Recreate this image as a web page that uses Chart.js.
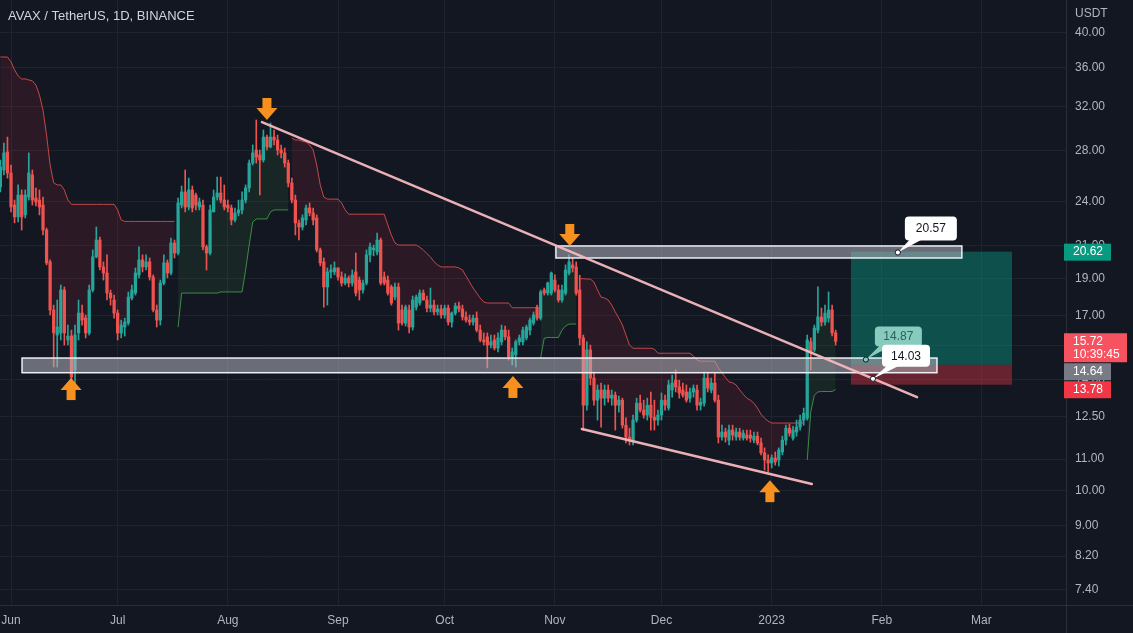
<!DOCTYPE html>
<html><head><meta charset="utf-8">
<script src="https://cdn.jsdelivr.net/npm/chart.js@4.4.0/dist/chart.umd.min.js"></script>
<style>html,body{margin:0;padding:0;background:#131722;overflow:hidden}</style>
</head><body>
<canvas id="c" width="1133" height="633"></canvas>
<script>
// ---- DATA (daily candles, day 0 = 2022-06-01; first candle = day -3) ----
const firstDay = -3;
const opens = [
25.09,26.41,27.89,26.17,23.75,22.91,24.48,23.05,24.33,26.01,
24.26,24.11,23.75,22.02,19.99,17.28,16.02,16.12,18.36,15.78,
15.97,14.41,16.12,17.12,16.86,16.12,18.36,20.30,21.36,19.69,
19.33,18.19,17.81,17.12,16.12,16.41,16.61,17.92,18.19,19.22,
20.11,19.69,19.99,19.10,17.28,16.76,18.75,19.93,19.33,21.17,
20.54,23.75,24.71,23.61,24.86,24.48,23.61,23.75,20.92,20.54,
23.26,24.33,24.63,24.11,23.75,23.54,22.70,23.19,23.40,24.11,
25.01,26.97,28.06,27.64,27.22,29.18,28.32,29.18,28.92,28.06,
27.81,26.97,25.39,24.11,22.50,22.22,22.70,23.54,23.19,22.84,
20.73,19.99,18.53,19.39,19.39,19.63,19.10,18.75,19.04,18.75,
19.39,18.92,18.36,18.75,20.42,20.73,20.60,21.36,19.10,18.92,
18.53,17.97,18.53,17.28,16.61,17.28,16.41,17.43,17.65,18.19,
17.81,17.38,17.54,17.18,17.33,17.02,17.38,16.66,17.12,17.49,
17.33,16.92,16.76,16.66,16.86,16.26,15.78,15.93,15.54,15.78,
15.40,15.69,16.26,15.93,14.99,15.08,15.69,15.69,15.88,16.26,
16.61,17.43,16.86,18.36,18.19,18.19,18.92,18.36,17.81,18.19,
19.33,19.81,19.69,18.36,15.88,12.95,15.31,14.06,13.15,13.56,
13.23,13.56,13.23,13.35,12.95,13.15,12.19,11.76,11.65,12.38,
13.03,12.76,12.57,12.95,12.49,12.38,12.57,13.15,12.84,13.56,
13.97,13.69,13.56,13.48,13.23,13.48,13.56,12.95,13.03,14.06,
13.56,13.85,13.15,11.76,11.94,11.65,12.01,11.76,11.94,11.72,
11.83,11.83,11.65,11.79,11.55,11.21,10.97,10.87,11.04,10.97,
11.24,11.65,12.08,11.72,11.94,12.12,12.38,12.45,15.69,15.31,
16.26,16.92,16.66,16.86,17.28,16.12];
const highs = [
27.22,28.66,29.18,26.81,24.11,25.24,24.86,24.86,27.81,26.41,
25.01,24.86,24.33,22.15,20.11,17.54,17.81,18.64,18.53,16.51,
16.26,16.51,17.81,17.54,17.02,18.64,20.73,22.22,21.56,19.99,
20.42,18.36,18.08,17.28,16.76,16.86,18.25,18.64,19.63,20.92,
20.42,20.42,20.23,19.22,17.54,18.92,20.42,20.11,21.49,21.36,
24.26,25.16,26.41,25.77,25.16,24.63,24.26,24.11,21.04,23.75,
24.86,25.85,25.85,25.24,24.11,23.75,23.54,24.11,24.71,25.24,
27.22,28.49,30.73,28.06,29.81,29.36,30.45,29.81,29.36,28.49,
28.23,27.22,25.77,24.48,22.70,23.05,23.75,23.90,23.54,23.05,
20.85,20.23,19.63,19.81,19.99,19.63,19.39,19.28,19.16,19.51,
20.54,19.10,18.92,20.73,21.17,21.04,21.82,21.49,19.39,19.16,
18.64,18.75,18.75,17.54,17.54,17.54,18.03,18.08,18.36,18.36,
18.03,18.47,17.81,17.54,17.54,17.54,17.54,17.18,17.65,17.70,
17.54,17.18,17.02,17.02,17.18,16.51,16.12,16.12,16.02,16.02,
16.12,16.51,16.46,16.26,15.40,15.78,16.02,16.41,16.51,16.86,
17.18,17.54,18.36,18.47,18.81,19.39,19.22,18.64,18.64,19.81,
20.42,20.23,19.99,19.20,16.02,15.69,15.54,14.32,13.77,13.85,
13.77,13.77,13.56,13.48,13.31,13.23,12.46,12.08,12.57,13.23,
13.35,13.15,13.23,13.48,13.15,12.76,13.44,13.35,13.97,14.19,
14.41,13.97,13.85,13.77,13.64,13.77,13.77,13.23,14.32,14.32,
14.06,14.28,13.35,12.19,12.08,12.19,12.19,12.08,12.08,12.01,
12.01,12.01,11.94,11.94,11.72,11.38,11.14,11.14,11.24,11.38,
11.79,12.19,12.23,12.15,12.38,12.57,12.84,16.02,15.88,16.51,
18.53,17.38,17.54,18.25,17.54,16.26];
const lows = [
24.71,26.01,25.77,23.26,22.50,22.56,22.02,22.84,24.11,23.75,
23.68,23.05,21.69,19.81,17.02,14.54,14.54,15.78,15.54,15.54,
13.69,13.77,15.78,16.51,15.88,16.02,18.25,20.23,19.51,18.92,
17.81,17.54,16.86,15.78,15.88,15.97,16.51,17.81,18.08,19.04,
19.39,19.51,18.92,17.18,16.41,16.51,18.64,19.04,19.22,20.23,
20.42,23.54,23.26,23.40,23.26,23.40,23.40,20.73,19.51,20.42,
23.26,24.11,23.90,23.40,23.26,22.36,22.56,22.98,23.12,23.90,
24.71,26.81,26.97,24.48,27.05,28.06,28.23,28.49,27.64,27.39,
26.65,25.09,23.90,21.69,21.36,22.02,22.36,22.98,22.36,20.60,
19.75,17.43,17.54,19.04,19.22,18.92,18.58,18.64,18.53,18.58,
18.03,17.81,18.19,18.64,19.99,20.36,20.42,18.64,18.64,18.08,
17.54,17.81,16.26,16.51,16.46,16.12,16.26,17.28,17.54,17.81,
17.18,17.18,17.02,17.02,16.86,16.86,16.51,16.41,17.02,17.18,
16.76,16.66,16.51,16.51,16.17,15.69,15.54,14.50,15.40,15.31,
15.22,15.54,15.78,14.85,14.63,14.54,15.54,15.54,15.78,16.02,
16.51,16.76,16.76,18.08,18.08,18.08,18.25,17.70,17.70,18.08,
19.22,19.39,18.08,15.54,12.01,12.76,13.77,12.95,12.38,12.12,
12.95,13.07,12.95,12.01,12.68,12.08,11.55,11.48,11.48,12.30,
12.68,12.45,12.38,12.01,12.01,12.19,12.38,12.76,12.76,13.27,
13.48,13.23,13.27,13.07,13.07,13.27,12.76,12.76,12.91,13.48,
13.44,13.07,11.55,11.65,11.58,11.48,11.65,11.65,11.65,11.65,
11.65,11.58,11.55,11.48,11.14,10.64,10.58,10.71,10.80,10.77,
11.14,11.48,11.79,11.65,11.79,12.01,12.19,12.38,14.41,15.22,
16.12,16.46,16.51,16.66,15.97,15.54];
const closes = [
26.65,27.81,26.17,23.61,22.91,24.48,22.91,24.48,26.17,24.11,
23.97,23.61,22.02,19.93,17.28,16.12,16.41,18.36,16.12,15.97,
14.10,16.02,17.12,16.76,16.12,18.36,20.30,21.36,19.69,19.33,
18.19,17.92,17.12,16.12,16.51,16.66,17.97,18.36,19.33,20.11,
19.69,19.99,19.10,17.28,16.76,18.75,19.93,19.33,21.17,20.54,
23.90,24.71,23.61,24.86,23.54,23.75,23.97,20.92,20.54,23.40,
24.33,24.63,24.11,23.61,23.54,22.70,23.19,23.40,24.11,25.01,
26.97,27.81,27.47,27.22,29.18,28.32,29.18,28.92,28.06,27.81,
26.97,25.39,24.11,22.50,22.22,22.84,23.54,23.19,22.70,20.73,
19.93,18.53,19.39,19.51,19.63,19.10,18.75,19.04,18.75,19.22,
18.19,18.36,18.75,20.42,20.92,20.85,21.36,18.75,18.75,18.19,
17.65,18.53,16.61,16.61,17.43,16.41,17.81,17.97,18.19,17.81,
17.38,17.54,17.18,17.33,17.02,17.38,16.66,17.12,17.49,17.33,
16.92,16.76,16.66,16.86,16.26,15.78,15.69,15.54,15.69,15.40,
15.88,16.26,15.93,14.99,15.22,15.69,15.88,16.26,16.41,16.76,
17.02,16.86,18.25,18.19,18.75,19.33,18.36,17.81,18.36,19.51,
19.99,19.63,18.19,15.88,12.95,15.31,14.06,13.15,13.56,13.23,
13.56,13.23,13.35,12.95,13.15,12.19,11.76,11.65,12.38,13.03,
12.76,12.57,12.95,12.49,12.38,12.57,13.15,12.95,13.77,13.85,
13.69,13.44,13.35,13.15,13.48,13.64,12.95,13.07,14.06,13.64,
13.85,13.15,11.76,11.94,11.76,12.01,11.83,11.94,11.76,11.90,
11.72,11.72,11.79,11.55,11.21,10.97,10.87,11.04,10.91,11.31,
11.65,12.08,11.90,12.01,12.12,12.38,12.64,15.78,15.22,16.36,
16.92,16.66,17.12,17.28,16.12,15.72];

// Supertrend segments (upper = red, lower = green), each starting at the given day
const redStarts = [-3, 79, 160];
const redSeg1 = [37.19,37.19,37.19,36.64,35.76,35.11,34.8,34.8,34.69,34.6,34.17,33.15,31.67,29.36,26.81,25.4,25.24,25.24,24.86,24.11,
23.8,23.8,23.8,23.8,23.8,23.8,23.8,23.8,23.8,23.8,23.8,23.8,23.8,23.4,22.7,
22.6,22.6,22.6,22.6,22.6,22.6,22.6,22.6,22.6,22.6,22.6,22.6,22.6,22.6,22.6];
const redSeg2 = [29.1,28.92,28.92,28.8,28.75,28.49,28.06,26.81,25.24,24.33,24.18,24.18,24.18,24.18,23.9,23.4,
23.1,23.1,23.1,23.1,23.1,23.1,23.1,23.1,23.1,23.1,23.1,22.36,21.69,21.17,21.04,21.04,21.04,21.04,21.04,21.04,
20.9,20.73,20.5,20.3,20.0,19.81,19.69,19.69,19.69,19.69,19.69,19.63,19.51,19.16,18.81,18.47,18.19,17.92,17.7,
17.65,17.65,17.65,17.65,17.65,17.65,17.65,17.4,17.4,17.4,17.4,17.4,17.4,17.4,17.4];
const redSeg3 = [19.0,19.0,18.98,18.98,18.81,18.36,17.97,17.92,17.81,17.54,17.18,16.86,16.51,16.02,15.54,
15.39,15.39,15.39,15.39,15.39,15.39,15.35,15.16,15.16,15.16,15.16,15.16,15.16,15.16,15.16,15.16,15.16,
15.03,14.85,14.8,14.8,14.8,14.8,14.8,14.5,14.3,14.08,13.9,13.86,13.77,13.56,13.39,13.23,13.15,13.03,12.84,12.6,12.45,12.34,
12.27,12.27,12.27,12.27,12.27,12.27,12.27,12.27,12.27,12.27];
const greenStarts = [47, 149, 224];
const greenSeg1 = [16.41,18.19,18.19,18.19,18.19,18.19,18.19,18.19,18.19,18.19,18.19,18.19,
18.25,18.25,18.25,18.25,18.25,18.25,18.25,19.51,21.04,22.56,22.77,22.77,22.77,22.77,23.26,23.4,23.4,23.4,23.4,23.4];
const greenSeg2 = [14.94,15.86,15.9,15.9,15.9,15.9,16.26,16.46,16.56,16.56,16.56];
const greenSeg3 = [10.97,12.7,13.35,13.48,13.5,13.5,13.5,13.5,13.58];

// Axis ticks
const monthTicks = [0, 30, 61, 92, 122, 153, 183, 214, 245, 273];
const monthLabels = ['Jun','Jul','Aug','Sep','Oct','Nov','Dec','2023','Feb','Mar'];
const priceTicks = [7.4, 8.2, 9, 10, 11, 12.5, 14, 15.5, 17, 19, 21, 24, 28, 32, 36, 40];

// Drawings (day, price)
const supportZone = [3.1, 260.5, 14.29, 14.94];
const resistZone = [153.3, 267.5, 20.23, 20.98];
const downTrend = [[70.6, 30.54], [254.9, 13.27]];
const lowerTrend = [[160.6, 12.05], [225.3, 10.2]];
const downArrows = [[72.0, 30.73], [157.2, 20.98]];
const upArrows = [[16.9, 14.06], [141.2, 14.15], [213.5, 10.32]];
const position = {from: 236.3, to: 281.6, target: 20.62, entry: 14.64, stop: 13.78};
const callouts = [
  {day: 249.5, price: 20.57, text: '20.57', kind: 'white', dx: 7, dy: -36, w: 52, h: 24},
  {day: 240.5, price: 14.87, text: '14.87', kind: 'teal', dx: 9, dy: -33, w: 47, h: 20},
  {day: 242.5, price: 14.03, text: '14.03', kind: 'white', dx: 9, dy: -34, w: 48, h: 22}
];
const lastPrice = 15.72, countdown = '10:39:45';

// ---- build ----
const FONT = "'Liberation Sans', Arial, sans-serif";
const days = opens.map((_, i) => firstDay + i);
const colors = closes.map((c, i) => c >= opens[i] ? '#26a69a' : '#ef5350');
const bodyData = days.map((d, i) => ({x: d, y: [Math.min(opens[i], closes[i]), Math.max(opens[i], closes[i])]}));
const wickData = days.map((d, i) => ({x: d, y: [lows[i], highs[i]]}));
const midData = days.map((d, i) => ({x: d, y: (opens[i] + closes[i]) / 2}));
function segData(starts, segs) {
  const out = [];
  segs.forEach((s, k) => {
    s.forEach((v, j) => out.push({x: starts[k] + j, y: v}));
    out.push({x: starts[k] + s.length - 0.5, y: null});
  });
  return out;
}

function roundRect(ctx, x, y, w, h, r) {
  ctx.beginPath();
  ctx.moveTo(x + r, y); ctx.lineTo(x + w - r, y); ctx.quadraticCurveTo(x + w, y, x + w, y + r);
  ctx.lineTo(x + w, y + h - r); ctx.quadraticCurveTo(x + w, y + h, x + w - r, y + h);
  ctx.lineTo(x + r, y + h); ctx.quadraticCurveTo(x, y + h, x, y + h - r);
  ctx.lineTo(x, y + r); ctx.quadraticCurveTo(x, y, x + r, y); ctx.closePath();
}

const drawings = {
  id: 'drawings',
  beforeDraw(chart) {
    const c = chart.ctx; c.save(); c.fillStyle = '#131722'; c.fillRect(0, 0, chart.width, chart.height); c.restore();
  },
  afterDatasetsDraw(chart) {
    const c = chart.ctx, xs = chart.scales.x, ys = chart.scales.y;
    const X = d => xs.getPixelForValue(d), Y = p => ys.getPixelForValue(p);
    c.save();
    // long position box
    c.fillStyle = 'rgba(8,153,129,0.45)';
    c.fillRect(X(position.from), Y(position.target), X(position.to) - X(position.from), Y(position.entry) - Y(position.target));
    c.fillStyle = 'rgba(242,54,69,0.38)';
    c.fillRect(X(position.from), Y(position.entry), X(position.to) - X(position.from), Y(position.stop) - Y(position.entry));
    // zones
    [supportZone, resistZone].forEach(z => {
      const x0 = X(z[0]), x1 = X(z[1]), y0 = Y(z[3]), y1 = Y(z[2]);
      c.fillStyle = 'rgba(178,181,190,0.55)';
      c.fillRect(x0, y0, x1 - x0, y1 - y0);
      c.strokeStyle = '#eceff4'; c.lineWidth = 1.5;
      c.strokeRect(x0, y0, x1 - x0, y1 - y0);
    });
    // trend lines
    c.strokeStyle = 'rgba(246,184,190,0.95)'; c.lineWidth = 2.5; c.lineCap = 'round';
    [downTrend, lowerTrend].forEach(l => {
      c.beginPath(); c.moveTo(X(l[0][0]), Y(l[0][1])); c.lineTo(X(l[1][0]), Y(l[1][1])); c.stroke();
    });
    // arrows
    c.fillStyle = '#f7901e';
    downArrows.forEach(a => {
      const x = X(a[0]), y = Y(a[1]);
      c.beginPath(); c.moveTo(x - 10.5, y - 12); c.lineTo(x + 10.5, y - 12); c.lineTo(x, y); c.closePath(); c.fill();
      c.fillRect(x - 4.5, y - 22, 9, 10.5);
    });
    upArrows.forEach(a => {
      const x = X(a[0]), y = Y(a[1]);
      c.beginPath(); c.moveTo(x - 10.5, y + 12); c.lineTo(x + 10.5, y + 12); c.lineTo(x, y); c.closePath(); c.fill();
      c.fillRect(x - 4.5, y + 11.5, 9, 10.5);
    });
    // callouts
    c.font = '12px ' + FONT; c.textAlign = 'center'; c.textBaseline = 'middle';
    callouts.forEach(k => {
      const ax = X(k.day), ay = Y(k.price);
      const bx = ax + k.dx, by = ay + k.dy;
      const fill = k.kind === 'teal' ? '#86cbbd' : '#ffffff';
      c.fillStyle = fill;
      c.beginPath(); c.moveTo(ax, ay); c.lineTo(bx + 5, by + k.h - 1); c.lineTo(bx + 17, by + k.h - 1); c.closePath(); c.fill();
      roundRect(c, bx, by, k.w, k.h, 4); c.fill();
      c.fillStyle = k.kind === 'teal' ? '#2f5f58' : '#131722';
      c.fillText(k.text, bx + k.w / 2, by + k.h / 2 + 0.5);
      c.beginPath(); c.arc(ax, ay, 2.6, 0, Math.PI * 2);
      c.fillStyle = fill; c.fill();
      c.lineWidth = 1; c.strokeStyle = '#131722'; c.stroke();
    });
    c.restore();
  },
  afterDraw(chart) {
    const c = chart.ctx, ys = chart.scales.y, a = chart.chartArea;
    c.save();
    c.strokeStyle = '#2a2e39'; c.lineWidth = 1;
    c.beginPath(); c.moveTo(a.right + 0.5, 0); c.lineTo(a.right + 0.5, chart.height);
    c.moveTo(0, a.bottom + 0.5); c.lineTo(chart.width, a.bottom + 0.5); c.stroke();
    // title & currency
    c.fillStyle = '#d1d4dc'; c.font = '13px ' + FONT; c.textAlign = 'left'; c.textBaseline = 'middle';
    c.fillText('AVAX / TetherUS, 1D, BINANCE', 8, 16);
    c.fillStyle = '#b2b5be'; c.font = '12px ' + FONT;
    c.fillText('USDT', 1075, 14);
    // price labels
    const lx = a.right - 2;
    let prevBottom = -1e9;
    const labels = [
      {p: position.target, bg: '#089981', lines: [position.target.toFixed(2)], w: 47},
      {p: lastPrice, bg: '#f7525f', lines: [lastPrice.toFixed(2), countdown], w: 63},
      {p: position.entry, bg: '#787b86', lines: [position.entry.toFixed(2)], w: 47},
      {p: position.stop, bg: '#f23645', lines: [position.stop.toFixed(2)], w: 47}
    ];
    labels.forEach(L => {
      const h = L.lines.length === 1 ? 17 : 29;
      let top = ys.getPixelForValue(L.p) - 8;
      if (top < prevBottom + 1) top = prevBottom + 1;
      c.fillStyle = L.bg; c.fillRect(lx, top, L.w, h);
      c.fillStyle = '#ffffff'; c.textAlign = 'left';
      L.lines.forEach((t, i) => c.fillText(t, lx + 9, top + 8.5 + i * 13));
      prevBottom = top + h;
    });
    c.restore();
  }
};

new Chart(document.getElementById('c'), {
  type: 'bar',
  data: {
    datasets: [
      {type: 'line', data: midData, borderColor: 'rgba(0,0,0,0)', borderWidth: 0, pointRadius: 0, fill: false, order: 3},
      {type: 'line', data: segData(redStarts, [redSeg1, redSeg2, redSeg3]), borderColor: 'rgba(239,83,80,0.8)', borderWidth: 1,
        pointRadius: 0, spanGaps: false, order: 2, fill: {target: 0, above: 'rgba(242,54,69,0.11)', below: 'rgba(242,54,69,0.11)'}},
      {type: 'line', data: segData(greenStarts, [greenSeg1, greenSeg2, greenSeg3]), borderColor: 'rgba(76,175,80,0.75)', borderWidth: 1,
        pointRadius: 0, spanGaps: false, order: 2, fill: {target: 0, above: 'rgba(76,175,80,0.10)', below: 'rgba(76,175,80,0.10)'}},
      {type: 'bar', data: wickData, backgroundColor: colors, barThickness: 1, grouped: false, borderWidth: 0, order: 1},
      {type: 'bar', data: bodyData, backgroundColor: colors, barThickness: 2.6, minBarLength: 1, grouped: false, borderWidth: 0, order: 0}
    ]
  },
  options: {
    responsive: false, animation: false, devicePixelRatio: 1,
    layout: {padding: 0},
    plugins: {legend: {display: false}, tooltip: {enabled: false}},
    scales: {
      x: {
        type: 'linear', min: -3.1, max: 296.8, offset: false,
        grid: {color: '#1f232e', drawTicks: false, offset: false}, border: {display: false},
        afterBuildTicks: s => { s.ticks = monthTicks.map(v => ({value: v})); },
        afterFit: s => { s.height = 28; s.paddingLeft = 0; s.paddingRight = 0; },
        ticks: {autoSkip: false, maxRotation: 0, padding: 8, color: '#b2b5be', font: {family: FONT, size: 12},
          callback: (v, i) => monthLabels[i]}
      },
      y: {
        type: 'logarithmic', position: 'right', min: 7.07, max: 44.2,
        grid: {color: '#1f232e', drawTicks: false}, border: {display: false},
        afterBuildTicks: s => { s.ticks = priceTicks.map(v => ({value: v})); },
        afterFit: s => { s.width = 67; s.paddingTop = 0; s.paddingBottom = 0; },
        ticks: {padding: 9, color: '#b2b5be', font: {family: FONT, size: 12}, callback: v => Number(v).toFixed(2)}
      }
    }
  },
  plugins: [drawings]
});
</script>
</body></html>
